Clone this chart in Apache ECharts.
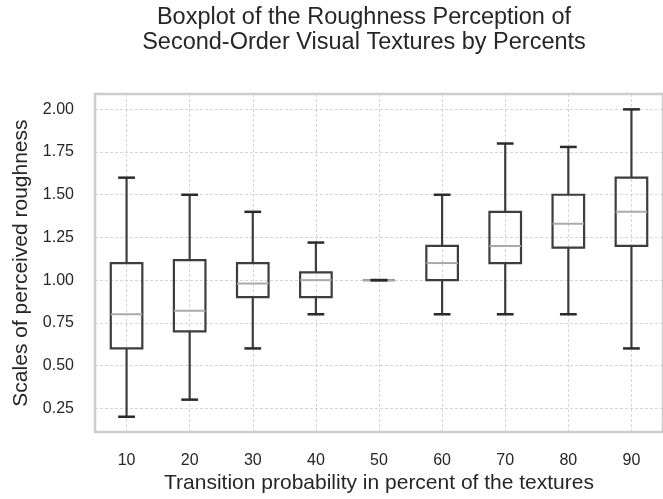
<!DOCTYPE html>
<html>
<head>
<meta charset="utf-8">
<script src="https://cdn.jsdelivr.net/npm/echarts@6/dist/echarts.min.js"></script>
<style>
html,body{margin:0;padding:0;background:#fff;}
#main{width:663px;height:499px;}
</style>
</head>
<body>
<div id="main"></div>
<script>
const categories = ['10','20','30','40','50','60','70','80','90'];
const whiskerLow  = [0.20, 0.30, 0.60, 0.80, 1.00, 0.80, 0.80, 0.80, 0.60];
const q1          = [0.60, 0.70, 0.90, 0.90, 1.00, 1.00, 1.10, 1.19, 1.20];
const median      = [0.80, 0.82, 0.98, 1.00, 1.00, 1.10, 1.20, 1.33, 1.40];
const q3          = [1.10, 1.117, 1.10, 1.045, 1.00, 1.20, 1.40, 1.50, 1.60];
const whiskerHigh = [1.60, 1.50, 1.40, 1.22, 1.00, 1.50, 1.80, 1.78, 2.00];
const yTicks = [0.25, 0.50, 0.75, 1.00, 1.25, 1.50, 1.75, 2.00];

const seriesData = categories.map((c, i) => [i, whiskerLow[i], q1[i], median[i], q3[i], whiskerHigh[i]]);

const textColor = '#262626';
const boxColor = '#3d3d3d';
const capColor = '#2b2b2b';
const medColor = '#aaaaaa';
const FF = 'Liberation Sans, Arial, sans-serif';

function renderItem(params, api) {
  const idx = api.value(0);
  const band = api.size([1, 0])[0];
  const half = band * 0.25;
  const capHalf = band * 0.133;
  const pLow = api.coord([idx, api.value(1)]);
  const pQ1 = api.coord([idx, api.value(2)]);
  const pMed = api.coord([idx, api.value(3)]);
  const pQ3 = api.coord([idx, api.value(4)]);
  const pHigh = api.coord([idx, api.value(5)]);
  const x = pMed[0];
  return {
    type: 'group',
    children: [
      { type: 'rect', shape: { x: x - half, y: pQ3[1], width: half * 2, height: pQ1[1] - pQ3[1] },
        style: { fill: 'none', stroke: boxColor, lineWidth: 2.2 } },
      { type: 'line', shape: { x1: x, y1: pQ1[1], x2: x, y2: pLow[1] },
        style: { stroke: boxColor, lineWidth: 2.2 } },
      { type: 'line', shape: { x1: x, y1: pQ3[1], x2: x, y2: pHigh[1] },
        style: { stroke: boxColor, lineWidth: 2.2 } },
      { type: 'line', shape: { x1: x - half, y1: pMed[1], x2: x + half, y2: pMed[1] },
        style: { stroke: medColor, lineWidth: 2 } },
      { type: 'line', shape: { x1: x - capHalf, y1: pLow[1], x2: x + capHalf, y2: pLow[1] },
        style: { stroke: capColor, lineWidth: 2.5 } },
      { type: 'line', shape: { x1: x - capHalf, y1: pHigh[1], x2: x + capHalf, y2: pHigh[1] },
        style: { stroke: capColor, lineWidth: 2.5 } }
    ]
  };
}

const chart = echarts.init(document.getElementById('main'), null, { renderer: 'canvas' });
chart.setOption({
  animation: false,
  backgroundColor: '#ffffff',
  textStyle: { fontFamily: FF },
  title: {
    text: 'Boxplot of the Roughness Perception of\nSecond-Order Visual Textures by Percents',
    left: 359,
    textAlign: 'center',
    top: 0,
    textStyle: { fontSize: 23.5, fontWeight: 'normal', color: textColor, lineHeight: 25, fontFamily: FF }
  },
  grid: {
    left: 95, top: 94, width: 577, height: 339,
    show: true, borderColor: '#cccccc', borderWidth: 2.5, backgroundColor: 'transparent'
  },
  xAxis: {
    type: 'category',
    data: categories,
    boundaryGap: true,
    name: 'Transition probability in percent of the textures',
    nameLocation: 'middle',
    nameGap: 40,
    nameTextStyle: { fontSize: 21, color: textColor, fontFamily: FF },
    axisLine: { show: false },
    axisTick: { show: false, alignWithLabel: true },
    axisLabel: { fontSize: 16, color: textColor, margin: 20, fontFamily: FF },
    splitLine: { show: true, alignWithLabel: true, lineStyle: { color: '#cccccc', type: [3, 2], width: 0.8 } }
  },
  yAxis: {
    type: 'value',
    min: 0.11,
    max: 2.09,
    name: 'Scales of perceived roughness',
    nameLocation: 'middle',
    nameGap: 60,
    nameTextStyle: { fontSize: 21, color: textColor, fontFamily: FF },
    axisLine: { show: false },
    axisTick: { show: false, customValues: yTicks },
    axisLabel: { fontSize: 16, color: textColor, margin: 21, customValues: yTicks, fontFamily: FF,
      formatter: v => v.toFixed(2) },
    splitLine: { show: true, lineStyle: { color: '#cccccc', type: [3, 2], width: 0.8 } }
  },
  series: [{
    type: 'custom',
    renderItem: renderItem,
    encode: { x: 0, y: [1, 2, 3, 4, 5] },
    data: seriesData,
    clip: false,
    z: 3
  }]
});
</script>
</body>
</html>
